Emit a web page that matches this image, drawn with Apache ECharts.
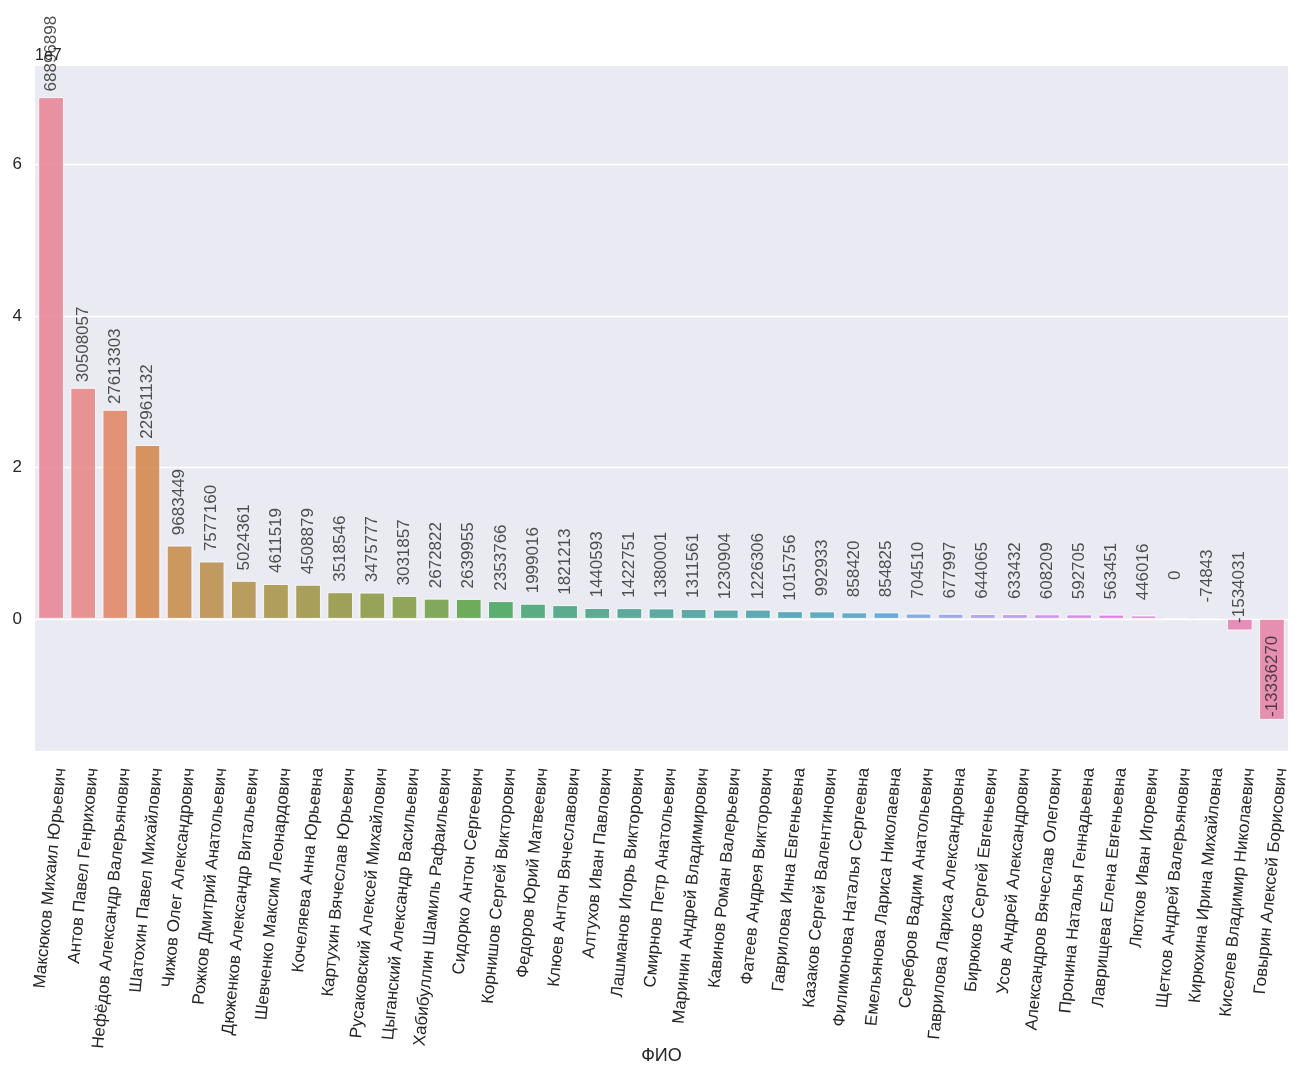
<!DOCTYPE html>
<html>
<head>
    <meta charset="utf-8">
    <title>ФИО</title>
    <script type="text/javascript" src="https://cdn.jsdelivr.net/npm/echarts@6/dist/echarts.min.js"></script>
    <style>
        body { margin: 0; background: #fff; }
    </style>
</head>
<body>
    <div id="main" style="width: 1303px;height:1080px;"></div>
    <script type="text/javascript">
        var names = [
            'Максюков Михаил Юрьевич', 'Антов Павел Генрихович', 'Нефёдов Александр Валерьянович',
            'Шатохин Павел Михайлович', 'Чижов Олег Александрович', 'Рожков Дмитрий Анатольевич',
            'Дюженков Александр Витальевич', 'Шевченко Максим Леонардович', 'Кочеляева Анна Юрьевна',
            'Картухин Вячеслав Юрьевич', 'Русаковский Алексей Михайлович', 'Цыганский Александр Васильевич',
            'Хабибуллин Шамиль Рафаильевич', 'Сидорко Антон Сергеевич', 'Корнишов Сергей Викторович',
            'Федоров Юрий Матвеевич', 'Клюев Антон Вячеславович', 'Алтухов Иван Павлович',
            'Лашманов Игорь Викторович', 'Смирнов Петр Анатольевич', 'Маринин Андрей Владимирович',
            'Кавинов Роман Валерьевич', 'Фатеев Андрея Викторович', 'Гаврилова Инна Евгеньевна',
            'Казаков Сергей Валентинович', 'Филимонова Наталья Сергеевна', 'Емельянова Лариса Николаевна',
            'Серебров Вадим Анатольевич', 'Гаврилова Лариса Александровна', 'Бирюков Сергеи\u0306 Евгеньевич',
            'Усов Андрей Александрович', 'Александров Вячеслав Олегович', 'Пронина Наталья Геннадьевна',
            'Лаврищева Елена Евгеньевна', 'Лютков Иван Игоревич', 'Щетков Андрей Валерьянович',
            'Кирюхина Ирина Михайловна', 'Киселев Владимир Николаевич', 'Говырин Алексеи\u0306 Борисович'
        ];
        var values = [
            68896898, 30508057, 27613303, 22961132, 9683449, 7577160, 5024361, 4611519, 4508879,
            3518546, 3475777, 3031857, 2672822, 2639955, 2353766, 1999016, 1821213, 1440593,
            1422751, 1380001, 1311561, 1230904, 1226306, 1015756, 992933, 858420, 854825,
            704510, 677997, 644065, 633432, 608209, 592705, 563451, 446016, 0,
            -74843, -1534031, -13336270
        ];
        var yTicks = [0, 20000000, 40000000, 60000000];
        var yMin = -17447928, yMax = 73008556;

        var FONT = '"Liberation Sans", Arial, sans-serif';
        var TEXT = '#262626';

        // seaborn husl palette + desaturate(.75)
        function huslToRgb(h, s, l) {
            var M = [[3.2406, -1.5372, -0.4986], [-0.9689, 1.8758, 0.0415], [0.0557, -0.2040, 1.0570]];
            var hr = h * Math.PI / 180, sinH = Math.sin(hr), cosH = Math.cos(hr);
            var sub1 = Math.pow(l + 16, 3) / 1560896, sub2 = sub1 > 0.008856 ? sub1 : l / 903.3;
            var mx = Infinity;
            M.forEach(function (r) {
                var top = (0.99915 * r[0] + 1.05122 * r[1] + 1.14460 * r[2]) * sub2;
                var rb = 0.86330 * r[2] - 0.17266 * r[1], lb = 0.12949 * r[2] - 0.38848 * r[0];
                var bottom = (rb * sinH + lb * cosH) * sub2;
                [0, 1].forEach(function (t) {
                    var C = l * (top - 1.05122 * t) / (bottom + 0.17266 * sinH * t);
                    if (C > 0 && C < mx) mx = C;
                });
            });
            var C = mx / 100 * s;
            var U = Math.cos(hr) * C, V = Math.sin(hr) * C;
            var t = (l + 16) / 116;
            var Y = Math.pow(t, 3) > 0.008856 ? Math.pow(t, 3) : (116 * t - 16) / 903.3;
            var vu = U / (13 * l) + 0.19784, vv = V / (13 * l) + 0.46834;
            var X = -(9 * Y * vu) / ((vu - 4) * vv - vu * vv);
            var Z = (9 * Y - 15 * vv * Y - vv * X) / (3 * vv);
            return M.map(function (r) {
                var c = r[0] * X + r[1] * Y + r[2] * Z;
                c = c <= 0.0031308 ? 12.92 * c : 1.055 * Math.pow(c, 1 / 2.4) - 0.055;
                return Math.min(1, Math.max(0, c));
            });
        }
        function desat(rgb, f) {
            var mx = Math.max.apply(null, rgb), mn = Math.min.apply(null, rgb);
            var l = (mx + mn) / 2;
            return 'rgb(' + rgb.map(function (c) {
                return Math.round((l + (c - l) * f) * 255);
            }).join(',') + ')';
        }
        var colors = names.map(function (n, i) {
            var h = ((i / names.length + 0.01) % 1) * 359;
            return desat(huslToRgb(h, 89.1, 64.35), 0.75);
        });

        var myChart = echarts.init(document.getElementById('main'));
        var option = {
            animation: false,
            grid: {
                left: 35, right: 15, top: 66, bottom: 329,
                show: true, backgroundColor: '#eaeaf2', borderWidth: 0
            },
            xAxis: {
                type: 'category',
                data: names,
                name: 'ФИО',
                nameLocation: 'middle',
                nameGap: 296,
                nameMoveOverlap: false,
                nameTextStyle: { fontSize: 18, color: TEXT, fontFamily: FONT },
                axisLine: { show: false },
                axisTick: { show: false },
                axisLabel: {
                    interval: 0, rotate: 84.5, margin: 16,
                    lineHeight: 20,
                    fontSize: 17, color: TEXT, fontFamily: FONT,
                    // empty first line pushes the rotated text to the right of the tick
                    formatter: function (v) { return '\n' + v; }
                },
                splitLine: { show: false }
            },
            yAxis: {
                type: 'value',
                min: yMin, max: yMax,
                name: '1e7',
                nameLocation: 'end',
                nameGap: 2,
                nameTextStyle: { fontSize: 16, color: TEXT, fontFamily: FONT, align: 'left', verticalAlign: 'bottom' },
                axisLine: { show: false },
                axisTick: { show: false, customValues: yTicks },
                axisLabel: {
                    customValues: yTicks, margin: 13,
                    fontSize: 17, color: TEXT, fontFamily: FONT,
                    formatter: function (v) { return String(Math.round(v / 1e7)); }
                },
                splitLine: { show: true, lineStyle: { color: '#ffffff', width: 1.3 } }
            },
            series: [{
                type: 'bar',
                data: values.map(function (v, i) {
                    return { value: v, itemStyle: { color: colors[i] } };
                }),
                barCategoryGap: '20%',
                itemStyle: { borderColor: '#ffffff', borderWidth: 1, opacity: 0.85 },
                silent: true
            }, {
                type: 'scatter',
                data: values,
                symbolSize: 1,
                itemStyle: { color: 'rgba(0,0,0,0)' },
                silent: true,
                z: 5,
                label: {
                    show: true, position: 'top', distance: 43,
                    rotate: 90, align: 'center', verticalAlign: 'middle',
                    fontSize: 17, color: TEXT, fontFamily: FONT,
                    formatter: function (p) { return String(p.value); }
                }
            }]
        };
        myChart.setOption(option);
    </script>
</body>
</html>
